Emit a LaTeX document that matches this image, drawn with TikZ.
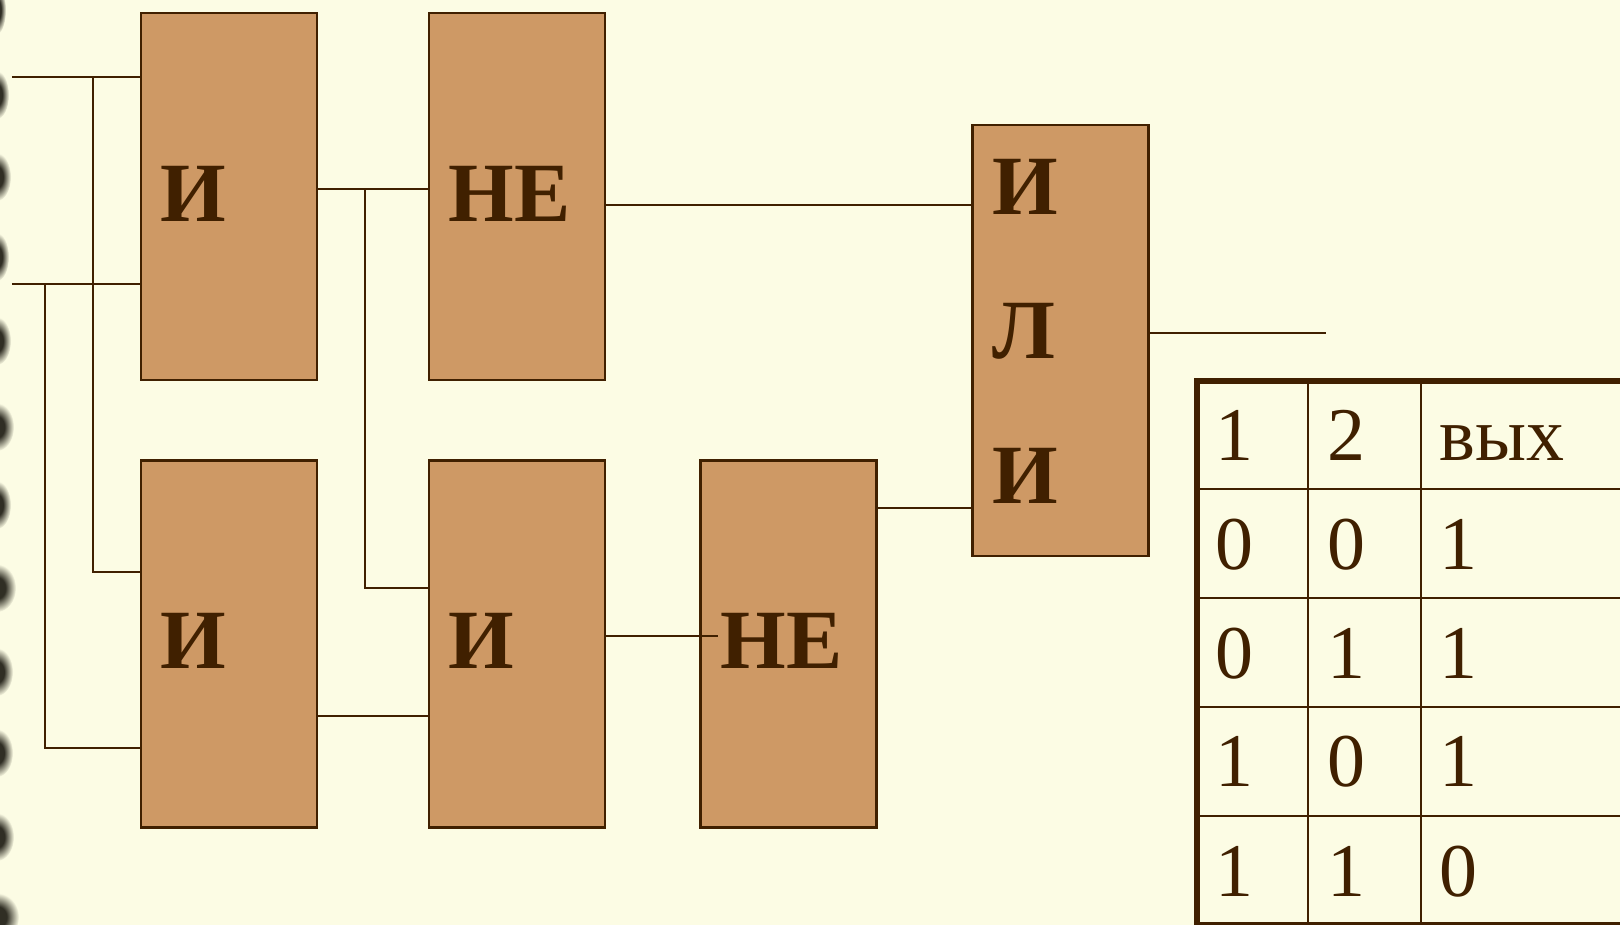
\documentclass[tikz,border=0pt]{standalone}
\usepackage{fontspec}
\setmainfont{Liberation Serif}
\definecolor{paper}{RGB}{252,252,228}
\definecolor{gatefill}{RGB}{206,153,101}
\definecolor{ink}{RGB}{64,32,0}
\definecolor{blobdark}{RGB}{48,46,36}
\pgfdeclareradialshading{blob}{\pgfpointorigin}{color(0bp)=(blobdark); color(11bp)=(blobdark); color(25bp)=(paper); color(50bp)=(paper)}
\tikzset{
	gate/.style={rectangle, draw=ink, fill=gatefill, line width=0.027cm, outer sep=0pt, minimum width=1.76cm, minimum height=3.67cm},
	gatetext/.style={anchor=base west, inner sep=0pt, text=ink, font=\fontsize{24}{24}\selectfont\bfseries},
	cell/.style={anchor=base west, inner sep=0pt, text=ink, font=\fontsize{21.6}{22}\selectfont},
	wire/.style={draw=ink, line width=0.027cm},
	tabline/.style={draw=ink, line width=0.027cm},
	tabframe/.style={draw=ink, line width=0.055cm, miter limit=10}
}
\begin{document}
\begin{tikzpicture}[x=1cm, y=-1cm]
					\useasboundingbox (0,0) rectangle (16.2,9.25);
					\fill[paper] (0,0) rectangle (16.2,9.25);
					
					\foreach \y/\r in {0.10/0.04, 0.95/0.07, 1.77/0.09, 2.57/0.07, 3.41/0.09, 4.27/0.12, 5.05/0.09, 5.88/0.14, 6.72/0.11, 7.53/0.11, 8.37/0.12, 9.17/0.17}
						\shade[shading=blob] (-0.03,\y) ellipse ({\r+0.05} and 0.24);
					
					\node[gate] (andA) at (2.29,1.965){};
					\node[gate] (notB) at (5.17,1.965){};
					\node[gate] (andC) at (2.29,6.44){};
					\node[gate] (andD) at (5.17,6.44){};
					\node[gate] (notE) at (7.885,6.44){};
					\node[gate, minimum height=4.31cm] (orF) at (10.605,3.405){};
					
					\node[gatetext] (tA) at (1.60,2.22){И};
					\node[gatetext] (tB) at (4.48,2.22){НЕ};
					\node[gatetext] (tC) at (1.60,6.69){И};
					\node[gatetext] (tD) at (4.48,6.69){И};
					\node[gatetext] (tE) at (7.20,6.69){НЕ};
					\node[gatetext] (tF1) at (9.92,2.15){И};
					\node[gatetext] (tF2) at (9.92,3.59){Л};
					\node[gatetext] (tF3) at (9.92,5.04){И};
					
					\coordinate (in1) at (0.12,0.77);
					\coordinate (in2) at (0.12,2.84);
					\coordinate (j1) at (0.93,0.77);
					\coordinate (j2) at (0.45,2.84);
					\coordinate (j3) at (3.65,1.89);
					\coordinate (c1) at (0.93,5.72);
					\coordinate (c2) at (0.45,7.48);
					\coordinate (d1) at (3.65,5.88);
					\coordinate (d2) at (3.17,7.16);
					\coordinate (e1) at (6.05,6.36);
					\coordinate (e2) at (7.18,6.36);
					\coordinate (b1) at (6.05,2.05);
					\coordinate (f1) at (8.77,5.08);
					\coordinate (out) at (13.26,3.33);
					
					\path[wire] (in1) edge (in1 -| andA.west);
					\path[wire] (in2) edge (in2 -| andA.west);
					\path[wire, line cap=rect] (j1) edge (c1);
					\path[wire, line cap=rect] (j2) edge (c2);
					\path[wire] (c1) edge (c1 -| andC.west);
					\path[wire] (c2) edge (c2 -| andC.west);
					\path[wire] (j3 -| andA.east) edge (j3 -| notB.west);
					\path[wire, line cap=rect] (j3) edge (d1);
					\path[wire] (d1) edge (d1 -| andD.west);
					\path[wire] (d2) edge (d2 -| andD.west);
					\path[wire] (e1) edge (e2);
					\path[wire] (b1) edge (b1 -| orF.west);
					\path[wire] (f1) edge (f1 -| orF.west);
					\path[wire] (out -| orF.east) edge (out);
					
					\coordinate (tl) at (11.97,3.81);
					\coordinate (tr) at (16.3,3.81);
					\coordinate (bl) at (11.97,9.25);
					\coordinate (br) at (16.3,9.25);
					
					\path[tabline] (13.08,3.81) edge (13.08,9.25);
					\path[tabline] (14.21,3.81) edge (14.21,9.25);
					\path[tabline] (11.97,4.89) edge (16.3,4.89);
					\path[tabline] (11.97,5.98) edge (16.3,5.98);
					\path[tabline] (11.97,7.07) edge (16.3,7.07);
					\path[tabline] (11.97,8.16) edge (16.3,8.16);
					\draw[tabframe] (tr) -- (tl) -- (bl) -- (br);
					
					\node[cell] (h1) at (12.15,4.61){1};
					\node[cell] (h2) at (13.27,4.61){2};
					\node[cell] (h3) at (14.39,4.61){вых};
					\node[cell] (r1a) at (12.15,5.70){0};
					\node[cell] (r1b) at (13.27,5.70){0};
					\node[cell] (r1c) at (14.39,5.70){1};
					\node[cell] (r2a) at (12.15,6.79){0};
					\node[cell] (r2b) at (13.27,6.79){1};
					\node[cell] (r2c) at (14.39,6.79){1};
					\node[cell] (r3a) at (12.15,7.87){1};
					\node[cell] (r3b) at (13.27,7.87){0};
					\node[cell] (r3c) at (14.39,7.87){1};
					\node[cell] (r4a) at (12.15,8.96){1};
					\node[cell] (r4b) at (13.27,8.96){1};
					\node[cell] (r4c) at (14.39,8.96){0};
					\end{tikzpicture}
\end{document}
